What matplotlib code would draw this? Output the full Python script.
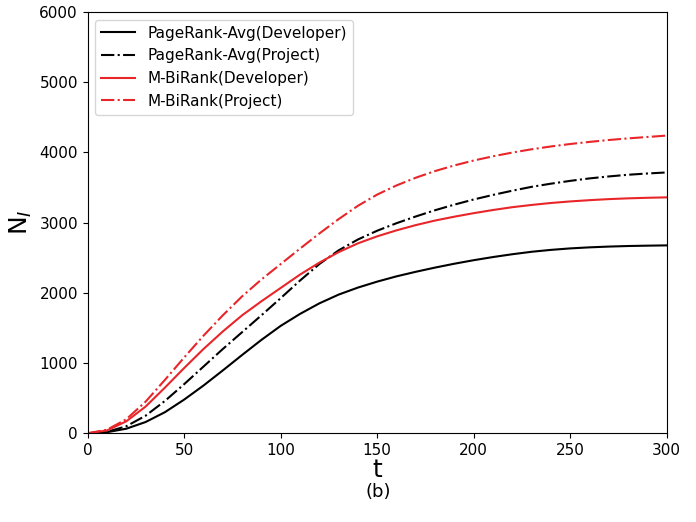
import matplotlib

matplotlib.use("Agg")
import matplotlib.pyplot as plt

t = [0, 10, 20, 30, 40, 50, 60, 70, 80, 90, 100, 110, 120, 130, 140, 150,
     160, 170, 180, 190, 200, 210, 220, 230, 240, 250, 260, 270, 280, 290, 300]

pr_dev = [0, 15, 65, 160, 300, 480, 680, 895, 1115, 1330, 1530, 1700, 1850, 1975,
          2075, 2160, 2235, 2300, 2360, 2415, 2465, 2510, 2550, 2585, 2612, 2633,
          2648, 2659, 2667, 2672, 2676]
pr_proj = [0, 20, 100, 250, 460, 700, 950, 1200, 1440, 1680, 1925, 2175, 2410, 2605,
           2760, 2885, 2992, 3088, 3177, 3257, 3330, 3395, 3455, 3510, 3555, 3595,
           3630, 3658, 3682, 3700, 3715]
mb_dev = [0, 40, 170, 380, 650, 930, 1200, 1450, 1680, 1880, 2070, 2260, 2430, 2580,
          2705, 2805, 2890, 2965, 3030, 3085, 3135, 3180, 3220, 3252, 3280, 3302,
          3320, 3335, 3346, 3354, 3360]
mb_proj = [0, 50, 200, 450, 760, 1080, 1390, 1680, 1950, 2190, 2410, 2630, 2845, 3050,
           3240, 3400, 3530, 3640, 3735, 3815, 3885, 3945, 3998, 4045, 4085, 4120,
           4150, 4177, 4200, 4220, 4240]

fig = plt.figure(figsize=(6.96, 5.22), dpi=100)
ax = fig.add_axes([0.126, 0.170, 0.832, 0.807])

ax.plot(t, pr_dev, color="black", lw=1.5, label="PageRank-Avg(Developer)")
ax.plot(t, pr_proj, color="black", lw=1.5, ls="-.", label="PageRank-Avg(Project)")
ax.plot(t, mb_dev, color="#e8262a", lw=1.5, label="M-BiRank(Developer)")
ax.plot(t, mb_proj, color="#e8262a", lw=1.5, ls="-.", label="M-BiRank(Project)")

ax.set_xlim(0, 300)
ax.set_ylim(0, 6000)
ax.set_xticks([0, 50, 100, 150, 200, 250, 300])
ax.set_yticks([0, 1000, 2000, 3000, 4000, 5000, 6000])
ax.tick_params(labelsize=11)
ax.set_xlabel("t", fontsize=18, labelpad=0)
ax.set_ylabel("N$_I$", fontsize=18)
ax.legend(loc="upper left", fontsize=11, handlelength=2.2)

fig.text(0.543, 0.057, "(b)", ha="center", va="center", fontsize=13)

fig.savefig("out.png", dpi=100)
